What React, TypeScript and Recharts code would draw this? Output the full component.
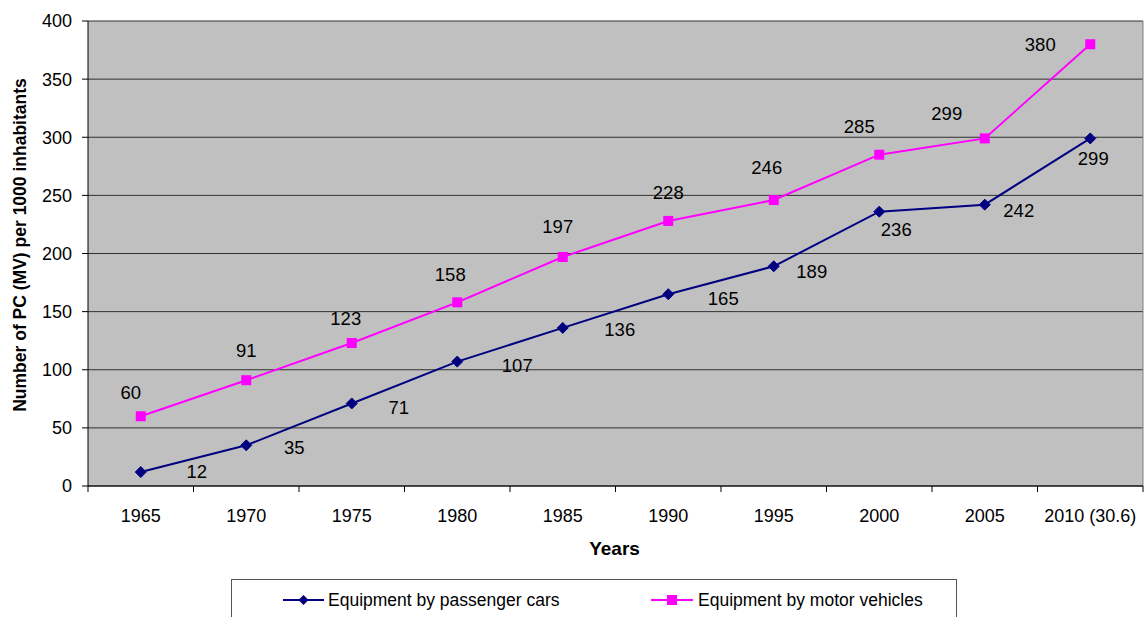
import React from 'react';
import { LineChart, Line, XAxis, YAxis, CartesianGrid, Legend, LabelList } from 'recharts';

const years = ['1965', '1970', '1975', '1980', '1985', '1990', '1995', '2000', '2005', '2010 (30.6)'];
const passengerCars = [12, 35, 71, 107, 136, 165, 189, 236, 242, 299];
const motorVehicles = [60, 91, 123, 158, 197, 228, 246, 285, 299, 380];
const yTicks = [0, 50, 100, 150, 200, 250, 300, 350, 400];

const carsName = 'Equipment by passenger cars';
const motorName = 'Equipment by motor vehicles';

// label placement offsets (styling, relative to each point)
const carLabelOffsets = [[56, -1], [48, 2], [47, 4], [60, 4], [57, 2], [55, 4], [38, 5], [17, 18], [34, 6], [3, 20]];
const motorLabelOffsets = [[-10, -24], [0, -30], [-6, -25], [-7, -28], [-5, -30], [0, -28], [-7, -33], [-20, -28], [-38, -25], [-50, 0]];

const data = years.map((y, i) => ({ year: y, cars: passengerCars[i], motor: motorVehicles[i] }));

const FONT = "'Liberation Sans', Arial, sans-serif";
const NAVY = '#000080';
const MAGENTA = '#FF00FF';

const Diamond = (props: any) => {
  const { cx, cy } = props;
  if (cx == null || cy == null) return null;
  const r = 5.5;
  return <polygon points={`${cx},${cy - r} ${cx + r},${cy} ${cx},${cy + r} ${cx - r},${cy}`} fill={NAVY} stroke={NAVY} />;
};

const Square = (props: any) => {
  const { cx, cy } = props;
  if (cx == null || cy == null) return null;
  const s = 10;
  return <rect x={cx - s / 2} y={cy - s / 2} width={s} height={s} fill={MAGENTA} />;
};

const makeLabel = (offsets: number[][]) => (props: any) => {
  const { x, y, value, index } = props;
  const off = offsets[index] || [0, -20];
  return (
    <text x={x + off[0]} y={y + off[1]} textAnchor="middle" dominantBaseline="central" fontSize={18.5} fontFamily={FONT} fill="#000">
      {value}
    </text>
  );
};

const XTick = (props: any) => {
  const { x, y, payload, index, visibleTicksCount, width } = props;
  const half = payload && payload.offset ? payload.offset : (width && visibleTicksCount ? width / visibleTicksCount / 2 : 52.75);
  return (
    <g>
      <line x1={x - half} x2={x - half} y1={y} y2={y + 6} stroke="#000" strokeWidth={1} />
      {index === visibleTicksCount - 1 ? <line x1={x + half} x2={x + half} y1={y} y2={y + 6} stroke="#000" strokeWidth={1} /> : null}
      <text x={x} y={y + 36} textAnchor="middle" fontSize={18} fontFamily={FONT} fill="#000">{payload.value}</text>
    </g>
  );
};

const YLabel = (props: any) => {
  const vb = props.viewBox || {};
  const cx = (vb.x || 0) + 20;
  const cy = 245;
  return (
    <text x={cx} y={cy} transform={`rotate(-90, ${cx}, ${cy})`} textAnchor="middle" dominantBaseline="central" fontSize={17.5} fontWeight="bold" fontFamily={FONT} fill="#000">
      Number of PC (MV) per 1000 inhabitants
    </text>
  );
};

const XLabel = (props: any) => {
  const vb = props.viewBox || {};
  const cx = (vb.x || 0) + (vb.width || 0) / 2 - 1;
  return (
    <text x={cx} y={555} textAnchor="middle" fontSize={19} fontWeight="bold" fontFamily={FONT} fill="#000">Years</text>
  );
};

const LegendContent = () => (
  <div style={{ position: 'relative', width: 726, height: 40, border: '1px solid #555', boxSizing: 'border-box', background: '#fff', fontFamily: FONT, fontSize: 17.5 }}>
    <svg width={726} height={40} style={{ position: 'absolute', left: 0, top: 0 }}>
      <line x1={51} x2={92} y1={20} y2={20} stroke={NAVY} strokeWidth={2} />
      <polygon points="71.5,15 76.5,20 71.5,25 66.5,20" fill={NAVY} />
      <text x={96} y={20} dominantBaseline="central" fontSize={17.5} fontFamily={FONT} fill="#000">{carsName}</text>
      <line x1={419} x2={461} y1={20} y2={20} stroke={MAGENTA} strokeWidth={2} />
      <rect x={435} y={15} width={10} height={10} fill={MAGENTA} />
      <text x={466} y={20} dominantBaseline="central" fontSize={17.5} fontFamily={FONT} fill="#000">{motorName}</text>
    </svg>
  </div>
);

export default function App() {
  return (
    <div style={{ position: 'absolute', left: 0, top: 0, width: 1146, height: 617, background: '#fff' }}>
      <LineChart width={1146} height={617} data={data} margin={{ top: 21, right: 3, bottom: 61, left: 0 }}>
        <CartesianGrid vertical={false} fill="#C0C0C0" stroke="#303030" strokeWidth={1} fillOpacity={1} />
        <CartesianGrid horizontal={false} stroke="#808080" strokeWidth={1}
          verticalCoordinatesGenerator={(p: any) => [p.offset.left + p.offset.width]} />
        <XAxis dataKey="year" scale="band" tickLine={false} tickSize={0} tickMargin={0} interval={0}
          axisLine={{ stroke: '#000' }} tick={<XTick />} label={<XLabel />} />
        <YAxis width={88} domain={[0, 400]} ticks={yTicks} interval={0} tickSize={6} tickMargin={10}
          axisLine={{ stroke: '#000' }} tickLine={{ stroke: '#000' }}
          tick={{ fontSize: 18, fontFamily: FONT, fill: '#000' }} label={<YLabel />} />
        <Line type="linear" dataKey="cars" name={carsName} stroke={NAVY} strokeWidth={2} dot={<Diamond />} isAnimationActive={false}>
          <LabelList dataKey="cars" content={makeLabel(carLabelOffsets)} />
        </Line>
        <Line type="linear" dataKey="motor" name={motorName} stroke={MAGENTA} strokeWidth={2} dot={<Square />} isAnimationActive={false}>
          <LabelList dataKey="motor" content={makeLabel(motorLabelOffsets)} />
        </Line>
        <Legend content={<LegendContent />} wrapperStyle={{ position: 'absolute', left: 231, top: 579, width: 726, height: 40, bottom: 'auto' }} />
      </LineChart>
    </div>
  );
}
